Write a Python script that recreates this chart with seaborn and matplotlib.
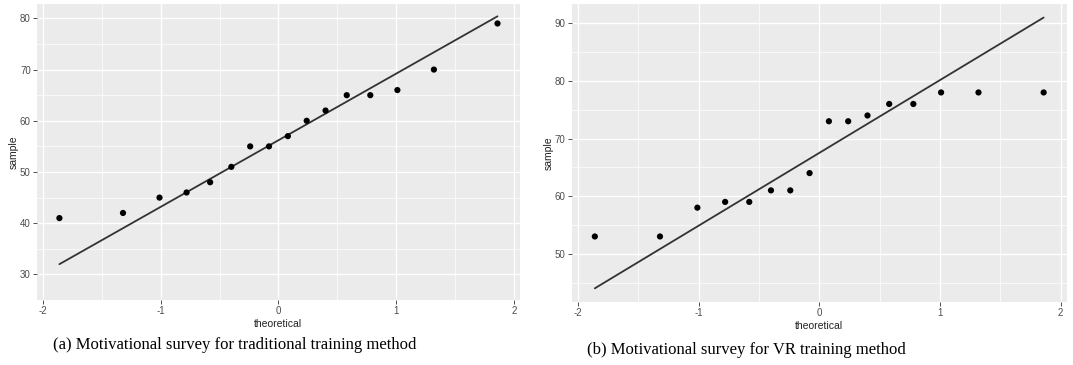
import numpy as np
import pandas as pd
import matplotlib
matplotlib.use("Agg")
import matplotlib.pyplot as plt
import seaborn as sns

# theoretical quantiles and sample scores
theoretical = [-1.86, -1.32, -1.01, -0.78, -0.58, -0.40, -0.24, -0.08,
               0.08, 0.24, 0.40, 0.58, 0.78, 1.01, 1.32, 1.86]
sample_trad = [41, 42, 45, 46, 48, 51, 55, 55, 57, 60, 62, 65, 65, 66, 70, 79]
sample_vr = [53, 53, 58, 59, 59, 61, 61, 64, 73, 73, 74, 76, 76, 78, 78, 78]

# reference line end points
line_x = [-1.86, 1.86]
line_trad = [32.0, 80.4]
line_vr = [44.0, 91.0]

captions = ["(a) Motivational survey for traditional training method",
            "(b) Motivational survey for VR training method"]

sns.set_theme(style="darkgrid")
plt.rcParams["font.family"] = ["Liberation Sans", "DejaVu Sans"]

fig = plt.figure(figsize=(10.73, 3.65), dpi=100)
ax1 = fig.add_axes([0.0345, 0.178, 0.450, 0.811])
ax2 = fig.add_axes([0.533, 0.173, 0.461, 0.816])

panels = [
    (ax1, sample_trad, line_trad, (29.6, 82.8), [30, 40, 50, 60, 70, 80]),
    (ax2, sample_vr, line_vr, (41.65, 93.35), [50, 60, 70, 80, 90]),
]

for ax, ys, ly, ylim, yticks in panels:
    ax.set_facecolor("#EBEBEB")
    df = pd.DataFrame({"theoretical": theoretical, "sample": ys})
    ln = pd.DataFrame({"x": line_x, "y": ly})
    sns.lineplot(data=ln, x="x", y="y", ax=ax, color="#333333", linewidth=1.3)
    sns.scatterplot(data=df, x="theoretical", y="sample", ax=ax,
                    color="black", s=20, edgecolor="none", zorder=3)
    ax.set_xlim(-2.05, 2.05)
    ax.set_ylim(*ylim)
    ax.set_xticks([-2, -1, 0, 1, 2])
    ax.set_xticklabels(["-2", "-1", "0", "1", "2"])
    ax.set_yticks(yticks)
    ax.set_xticks([-1.5, -0.5, 0.5, 1.5], minor=True)
    ax.set_yticks([v + 5 for v in yticks[:-1]] + [yticks[0] - 5], minor=True)
    ax.grid(which="major", color="white", linewidth=1.0)
    ax.grid(which="minor", color="white", linewidth=0.5)
    ax.tick_params(which="major", length=3, width=0.6, color="#333333",
                   labelsize=7, labelcolor="#4D4D4D", pad=1.5)
    ax.tick_params(which="minor", length=0)
    ax.tick_params(axis="x", bottom=True)
    ax.tick_params(axis="y", left=True)
    ax.set_xlabel("theoretical", fontsize=7.5, color="#222222", labelpad=2)
    ax.set_ylabel("sample", fontsize=7.5, color="#222222", labelpad=1)
    for s in ax.spines.values():
        s.set_visible(False)

fig.text(0.049, 0.055, captions[0], fontsize=12, family="Liberation Serif",
         color="black", va="center")
fig.text(0.547, 0.04, captions[1], fontsize=12, family="Liberation Serif",
         color="black", va="center")

fig.savefig("out.png", dpi=100, facecolor="white")
